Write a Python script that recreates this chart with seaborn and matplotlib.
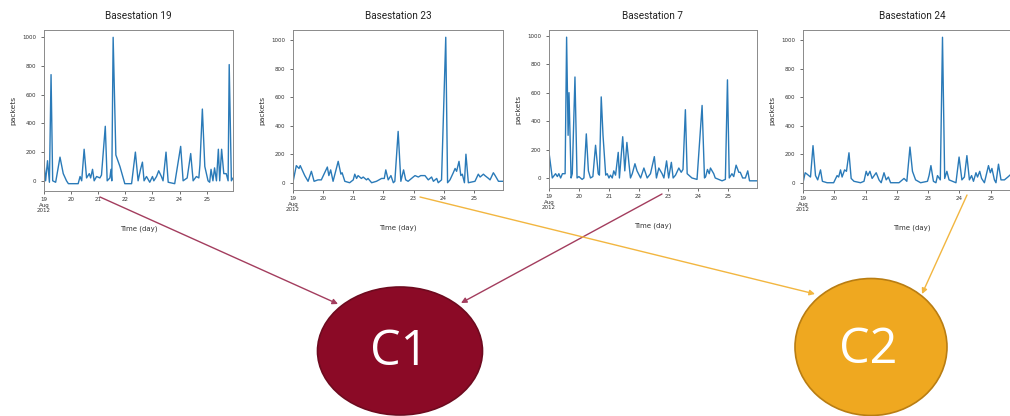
import numpy as np
import pandas as pd
import matplotlib
matplotlib.use("Agg")
import matplotlib.pyplot as plt
from matplotlib.patches import Ellipse
import seaborn as sns

# ---------------- data ----------------
titles = ["Basestation 19", "Basestation 23", "Basestation 7", "Basestation 24"]

bs19_t = [19.00, 19.06, 19.13, 19.20, 19.26, 19.32, 19.43, 19.59, 19.71, 19.83, 19.90, 20.26, 20.33, 20.39,
          20.48, 20.57, 20.67, 20.72, 20.79, 20.85, 20.94, 21.06, 21.12, 21.26, 21.33, 21.43, 21.47, 21.50,
          21.55, 21.65, 21.80, 21.98, 22.23, 22.37, 22.47, 22.56, 22.63, 22.69, 22.78, 22.90, 23.00, 23.05,
          23.15, 23.23, 23.33, 23.39, 23.50, 23.58, 23.82, 24.04, 24.13, 24.28, 24.41, 24.50, 24.62, 24.71,
          24.75, 24.84, 24.93, 25.05, 25.11, 25.16, 25.23, 25.29, 25.36, 25.43, 25.48, 25.55, 25.63, 25.72,
          25.79, 25.83, 25.91, 25.97]
bs19_v = [120, 0, 140, -10, 740, 0, -10, 165, 50, 0, -20, -20, 30, 0,
          220, 20, 50, 20, 80, 0, 30, 20, 40, 380, 0, 20, 80, 0,
          1000, 180, 100, -20, -20, 200, 0, 80, 130, 0, 30, -10, 30, 0,
          30, 70, 30, 0, 200, -10, -20, 240, 0, 20, 190, 0, 30, 20,
          110, 500, 100, 0, -10, 80, 0, 90, 0, 220, 0, 220, 50, 50,
          0, 810, 0, 20]

bs23_t = [19.00, 19.11, 19.20, 19.24, 19.39, 19.50, 19.61, 19.70, 19.83, 19.94, 20.14, 20.19, 20.25, 20.33,
          20.50, 20.59, 20.63, 20.72, 20.88, 21.00, 21.05, 21.11, 21.16, 21.27, 21.33, 21.44, 21.49, 21.61,
          21.77, 21.94, 22.03, 22.08, 22.16, 22.25, 22.33, 22.38, 22.49, 22.58, 22.67, 22.74, 22.82, 22.99,
          23.05, 23.16, 23.24, 23.38, 23.49, 23.60, 23.66, 23.77, 23.82, 23.93, 24.07, 24.13, 24.21, 24.32,
          24.38, 24.43, 24.51, 24.57, 24.62, 24.69, 24.74, 24.82, 25.04, 25.15, 25.21, 25.32, 25.37, 25.49,
          25.54, 25.65, 25.71, 25.82, 25.98]
bs23_v = [5, 120, 100, 120, 50, 10, 80, 10, 20, 20, 110, 50, 90, 10,
          150, 60, 70, 10, 0, 20, 60, 30, 50, 30, 40, 20, 30, 0,
          10, 30, 30, 90, 20, 50, 0, 10, 360, 10, 90, 20, 10, 40,
          50, 40, 50, 50, 20, 40, 10, 30, 0, 20, 1020, 0, 20, 70,
          100, 80, 150, 50, 60, 0, 200, 0, 10, 60, 40, 60, 50, 30,
          20, 70, 50, 10, 10]

bs7_t = [19.00, 19.11, 19.22, 19.28, 19.33, 19.39, 19.45, 19.54, 19.59, 19.64, 19.67, 19.74, 19.78, 19.87,
         19.94, 20.00, 20.11, 20.17, 20.25, 20.32, 20.39, 20.47, 20.56, 20.65, 20.69, 20.75, 20.81, 20.90,
         20.95, 21.01, 21.06, 21.12, 21.17, 21.23, 21.32, 21.36, 21.47, 21.54, 21.61, 21.68, 21.73, 21.79,
         21.88, 21.95, 22.07, 22.18, 22.29, 22.40, 22.53, 22.60, 22.68, 22.79, 22.85, 22.94, 23.01, 23.10,
         23.16, 23.24, 23.35, 23.43, 23.49, 23.57, 23.63, 23.79, 23.96, 24.13, 24.21, 24.25, 24.31, 24.37,
         24.41, 24.52, 24.57, 24.80, 24.91, 24.98, 25.04, 25.13, 25.19, 25.27, 25.36, 25.41, 25.49, 25.58,
         25.66, 25.72, 25.97]
bs7_v = [180, 0, 30, 10, 30, 0, 30, 30, 990, 300, 600, 0, 30, 710,
         0, 10, -10, 0, 310, 50, 0, 10, 230, 30, 20, 570, 300, 20,
         30, 0, 20, 0, 50, 20, 180, 0, 290, 50, 250, 100, 0, 30,
         100, 50, 0, 70, 0, 30, 150, 0, 70, 30, 0, 120, 0, 110,
         0, 20, 70, 40, 60, 480, 30, 0, -10, 510, 0, 10, 60, 30,
         70, 30, 0, -20, -10, 690, 0, 30, 10, 90, 40, 40, 0, 0,
         50, -20, -20]

bs24_t = [19.00, 19.07, 19.13, 19.24, 19.32, 19.40, 19.47, 19.56, 19.62, 19.77, 19.98, 20.09, 20.14, 20.20,
          20.25, 20.33, 20.39, 20.47, 20.54, 20.63, 20.84, 20.95, 21.02, 21.07, 21.14, 21.21, 21.34, 21.43,
          21.50, 21.59, 21.66, 21.73, 21.80, 22.07, 22.23, 22.32, 22.42, 22.50, 22.60, 22.76, 22.98, 23.03,
          23.09, 23.17, 23.25, 23.30, 23.39, 23.46, 23.53, 23.60, 23.67, 23.89, 23.99, 24.08, 24.16, 24.24,
          24.32, 24.39, 24.45, 24.53, 24.58, 24.65, 24.71, 24.80, 24.93, 24.99, 25.04, 25.12, 25.17, 25.25,
          25.33, 25.44, 25.55, 25.65, 25.80, 25.97]
bs24_v = [0, 70, 60, 40, 260, 50, 20, 90, 10, 0, 0, 50, 40, 90,
          40, 90, 80, 210, 30, 10, 0, 10, 80, 50, 80, 30, 70, 20,
          0, 70, 20, 40, 0, 0, 30, 10, 250, 80, 20, 0, 10, 50,
          120, 10, 0, 50, 20, 1020, 30, 80, 20, 0, 180, 20, 40, 190,
          20, 50, 10, 70, 40, 80, 30, 0, 120, 70, 100, 20, 0, 130,
          20, 20, 40, 60, 30, 20]

series_t = [bs19_t, bs23_t, bs7_t, bs24_t]
series_v = [bs19_v, bs23_v, bs7_v, bs24_v]

x_ticks = [19, 20, 21, 22, 23, 24, 25]
x_ticklabels = ["19\nAug\n2012", "20", "21", "22", "23", "24", "25"]
y_ticks = [0, 200, 400, 600, 800, 1000]

clusters = ["C1", "C2"]

# ---------------- figure ----------------
sns.set_style("white")
plt.rcParams["font.family"] = ["DejaVu Sans"]

W, H = 1010, 416
fig = plt.figure(figsize=(W / 100, H / 100), dpi=100)

# overlay for ellipses and arrows (pixel coordinates)
ov = fig.add_axes([0, 0, 1, 1], zorder=0)
ov.set_xlim(0, W)
ov.set_ylim(H, 0)
ov.axis("off")
ov.patch.set_alpha(0)

# axes rectangles in pixels: left, top, right, bottom
rects = [(44, 30, 233, 191), (293, 30, 503, 190), (549, 30, 757, 188), (803, 30, 1021, 190)]

for i, (l, t, r, b) in enumerate(rects):
    ax = fig.add_axes([l / W, 1 - b / H, (r - l) / W, (b - t) / H], zorder=2)
    df = pd.DataFrame({"Time (day)": series_t[i], "packets": series_v[i]})
    sns.lineplot(data=df, x="Time (day)", y="packets", ax=ax, color="#2a7ab8", linewidth=1.0)
    ax.set_xlim(19, 25.97)
    ax.set_xticks(x_ticks)
    ax.set_xticklabels(x_ticklabels, linespacing=1.15)
    ax.set_yticks(y_ticks)
    ax.tick_params(axis="both", labelsize=4.0, length=2.5, width=0.5, pad=2,
                   colors="#333333", bottom=True, left=True)
    ax.tick_params(axis="y", pad=3)
    ax.set_xlabel("Time (day)", fontsize=5.0, color="#333333", labelpad=9)
    ax.set_ylabel("packets", fontsize=5.4, color="#333333", labelpad=4)
    ax.set_title(titles[i], fontsize=7.2, color="#222222", pad=8, family=["Roboto", "DejaVu Sans"])
    for s in ax.spines.values():
        s.set_color("#8a8a8a")
        s.set_linewidth(0.7)

# ellipses
ov.add_patch(Ellipse((400, 351), 165, 128, facecolor="#8b0a26", edgecolor="#6e0a1f", lw=1.2, zorder=1))
ov.add_patch(Ellipse((871, 347), 152, 137, facecolor="#efa820", edgecolor="#b97d12", lw=1.2, zorder=1))
ov.text(399, 352, clusters[0], color="white", fontsize=35, ha="center", va="center",
        family=["Open Sans", "DejaVu Sans"], zorder=3)
ov.text(868, 350, clusters[1], color="white", fontsize=35, ha="center", va="center",
        family=["Open Sans", "DejaVu Sans"], zorder=3)

# arrows
c1_col = "#a33d5e"
c2_col = "#f2b640"
arrows = [((100, 197), (338, 304), c1_col),
          ((662, 194), (461, 303), c1_col),
          ((420, 197), (815, 294), c2_col),
          ((967, 195), (922, 294), c2_col)]
for start, end, col in arrows:
    ov.annotate("", xy=end, xytext=start,
                arrowprops=dict(arrowstyle="-|>", color=col, lw=1.0, mutation_scale=8,
                                shrinkA=0, shrinkB=0), zorder=2)

fig.savefig("out.png", dpi=100)
